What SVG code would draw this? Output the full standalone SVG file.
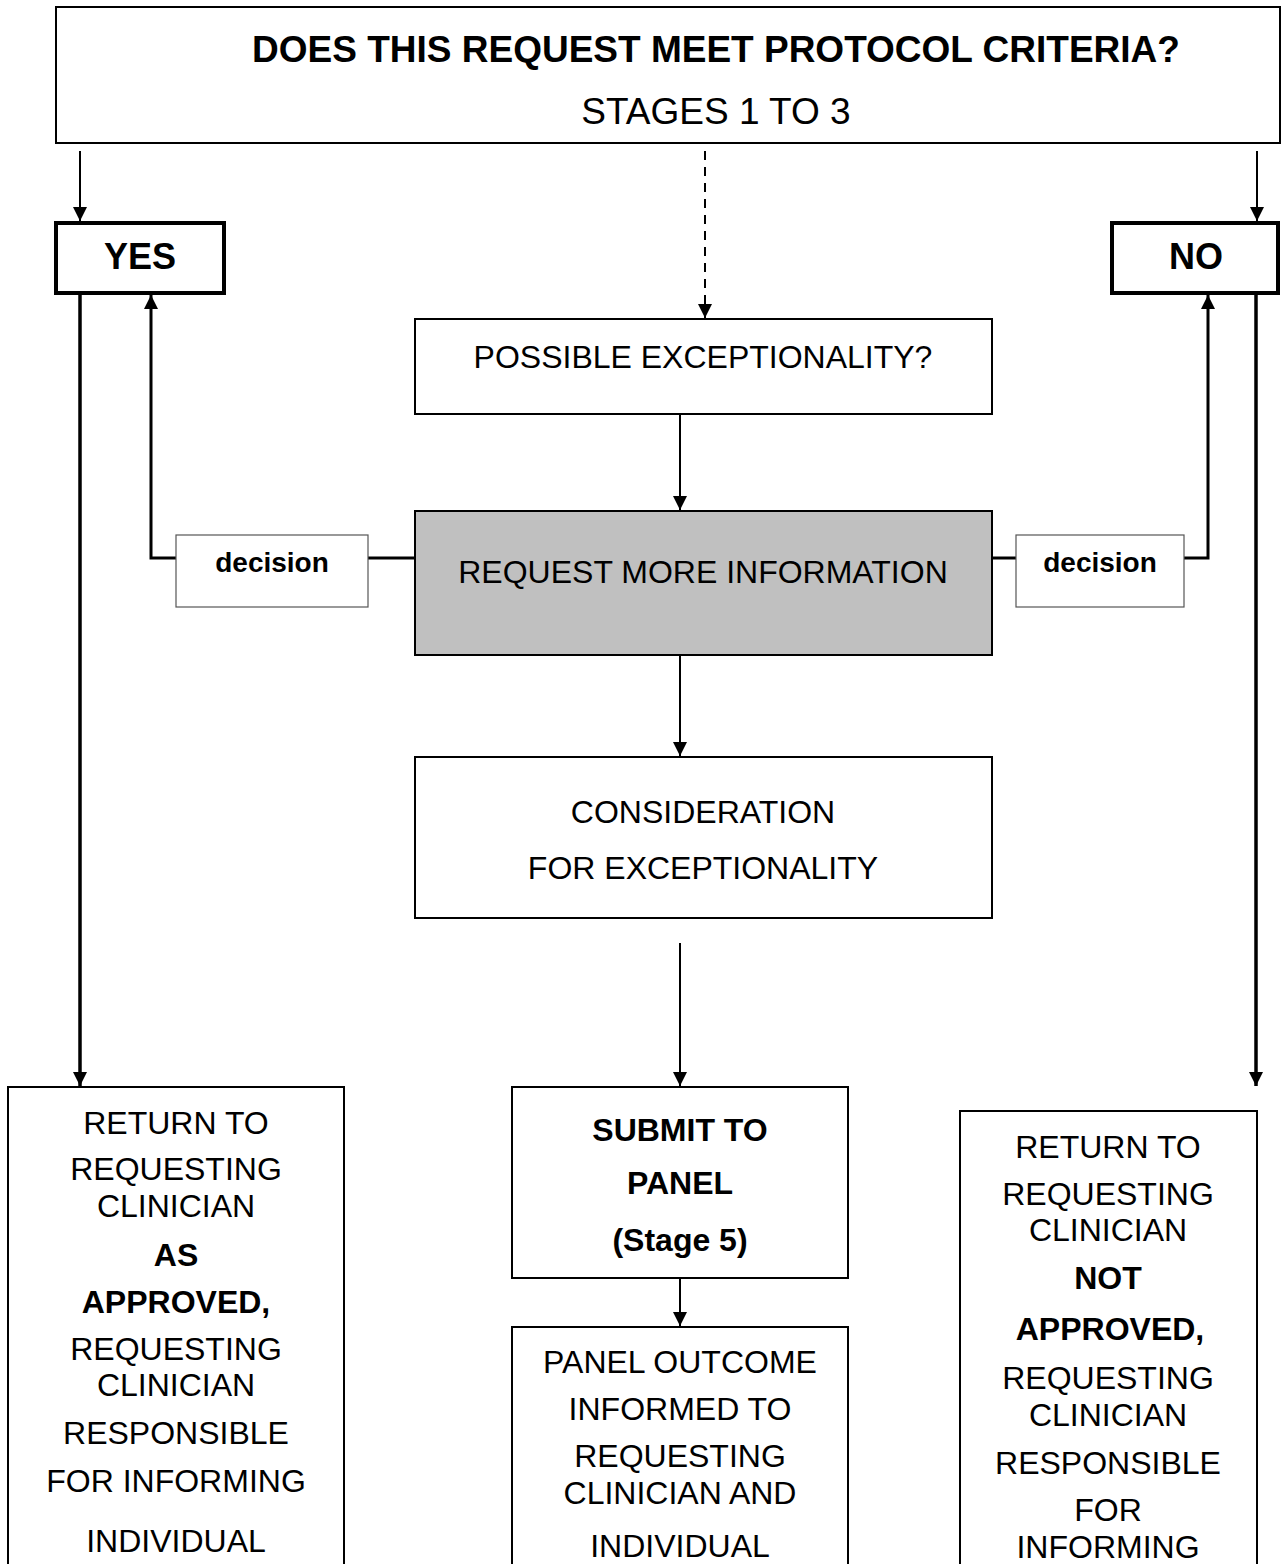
<svg xmlns="http://www.w3.org/2000/svg" width="1282" height="1564" viewBox="0 0 1282 1564">
<defs>
<marker id="ah" markerUnits="userSpaceOnUse" markerWidth="14" markerHeight="14" refX="14" refY="7" orient="auto"><path d="M0,0 L14,7 L0,14 z" fill="#000"/></marker>
</defs>
<style>
.box{fill:#fff;stroke:#000;stroke-width:2}
.thick{fill:#fff;stroke:#000;stroke-width:4}
.dec{fill:#fff;stroke:#555;stroke-width:1.2}
.grey{fill:#c0c0c0;stroke:#000;stroke-width:2}
text{font-family:"Liberation Sans",Arial,sans-serif;fill:#000;text-anchor:middle}
.t{font-size:32px}
.b{font-size:32px;font-weight:bold}
.c{stroke:#000;fill:none}
</style>
<rect width="1282" height="1564" fill="#fff"/>
<g id="connectors">
<line class="c" x1="80" y1="151" x2="80" y2="221" stroke-width="2" marker-end="url(#ah)"/>
<line class="c" x1="1257" y1="151" x2="1257" y2="221" stroke-width="2" marker-end="url(#ah)"/>
<line class="c" x1="705" y1="151" x2="705" y2="318" stroke-width="2" stroke-dasharray="9,7" marker-end="url(#ah)"/>
<line class="c" x1="80" y1="295" x2="80" y2="1086" stroke-width="3.5" marker-end="url(#ah)"/>
<line class="c" x1="1256" y1="295" x2="1256" y2="1086" stroke-width="3.5" marker-end="url(#ah)"/>
<polyline class="c" points="176,558 151,558 151,295" stroke-width="3" marker-end="url(#ah)"/>
<line class="c" x1="368" y1="558" x2="415" y2="558" stroke-width="3"/>
<polyline class="c" points="1184,558 1208,558 1208,295" stroke-width="3" marker-end="url(#ah)"/>
<line class="c" x1="992" y1="558" x2="1016" y2="558" stroke-width="3"/>
<line class="c" x1="680" y1="414" x2="680" y2="510" stroke-width="2" marker-end="url(#ah)"/>
<line class="c" x1="680" y1="655" x2="680" y2="756" stroke-width="2" marker-end="url(#ah)"/>
<line class="c" x1="680" y1="943" x2="680" y2="1086" stroke-width="2" marker-end="url(#ah)"/>
<line class="c" x1="680" y1="1278" x2="680" y2="1326" stroke-width="2" marker-end="url(#ah)"/>
</g>
<g id="criteria">
<rect class="box" x="56" y="7" width="1224" height="136" stroke-width="1.5"/>
<text x="716" y="62" style="font-size:37px;font-weight:bold">DOES THIS REQUEST MEET PROTOCOL CRITERIA?</text>
<text x="716" y="124" style="font-size:37px">STAGES 1 TO 3</text>
</g>
<g id="yes">
<rect class="thick" x="56" y="223" width="168" height="70"/>
<text x="140" y="269" style="font-size:36px;font-weight:bold">YES</text>
</g>
<g id="no">
<rect class="thick" x="1112" y="223" width="166" height="70"/>
<text x="1196" y="269" style="font-size:36px;font-weight:bold">NO</text>
</g>
<g id="possible">
<rect class="box" x="415" y="319" width="577" height="95"/>
<text class="t" x="703" y="368">POSSIBLE EXCEPTIONALITY?</text>
</g>
<g id="request">
<rect class="grey" x="415" y="511" width="577" height="144"/>
<text class="t" x="703" y="583">REQUEST MORE INFORMATION</text>
</g>
<g id="decision-left">
<rect class="dec" x="176" y="535" width="192" height="72"/>
<text x="272" y="572" style="font-size:28px;font-weight:bold">decision</text>
</g>
<g id="decision-right">
<rect class="dec" x="1016" y="535" width="168" height="72"/>
<text x="1100" y="572" style="font-size:28px;font-weight:bold">decision</text>
</g>
<g id="consideration">
<rect class="box" x="415" y="757" width="577" height="161"/>
<text class="t" x="703" y="823">CONSIDERATION</text>
<text class="t" x="703" y="879">FOR EXCEPTIONALITY</text>
</g>
<g id="submit">
<rect class="box" x="512" y="1087" width="336" height="191"/>
<text class="b" x="680" y="1141">SUBMIT TO</text>
<text class="b" x="680" y="1194">PANEL</text>
<text class="b" x="680" y="1251">(Stage 5)</text>
</g>
<g id="outcome">
<rect class="box" x="512" y="1327" width="336" height="260"/>
<text class="t" x="680" y="1373">PANEL OUTCOME</text>
<text class="t" x="680" y="1420">INFORMED TO</text>
<text class="t" x="680" y="1467">REQUESTING</text>
<text class="t" x="680" y="1504">CLINICIAN AND</text>
<text class="t" x="680" y="1557">INDIVIDUAL</text>
</g>
<g id="approved">
<rect class="box" x="8" y="1087" width="336" height="500"/>
<text class="t" x="176" y="1134">RETURN TO</text>
<text class="t" x="176" y="1180">REQUESTING</text>
<text class="t" x="176" y="1217">CLINICIAN</text>
<text class="b" x="176" y="1266">AS</text>
<text class="b" x="176" y="1313">APPROVED,</text>
<text class="t" x="176" y="1360">REQUESTING</text>
<text class="t" x="176" y="1396">CLINICIAN</text>
<text class="t" x="176" y="1444">RESPONSIBLE</text>
<text class="t" x="176" y="1492">FOR INFORMING</text>
<text class="t" x="176" y="1552">INDIVIDUAL</text>
</g>
<g id="not-approved">
<rect class="box" x="960" y="1111" width="297" height="480"/>
<text class="t" x="1108" y="1158">RETURN TO</text>
<text class="t" x="1108" y="1205">REQUESTING</text>
<text class="t" x="1108" y="1241">CLINICIAN</text>
<text class="b" x="1108" y="1289">NOT</text>
<text class="b" x="1110" y="1340">APPROVED,</text>
<text class="t" x="1108" y="1389">REQUESTING</text>
<text class="t" x="1108" y="1426">CLINICIAN</text>
<text class="t" x="1108" y="1474">RESPONSIBLE</text>
<text class="t" x="1108" y="1521">FOR</text>
<text class="t" x="1108" y="1558">INFORMING</text>
</g>
</svg>
